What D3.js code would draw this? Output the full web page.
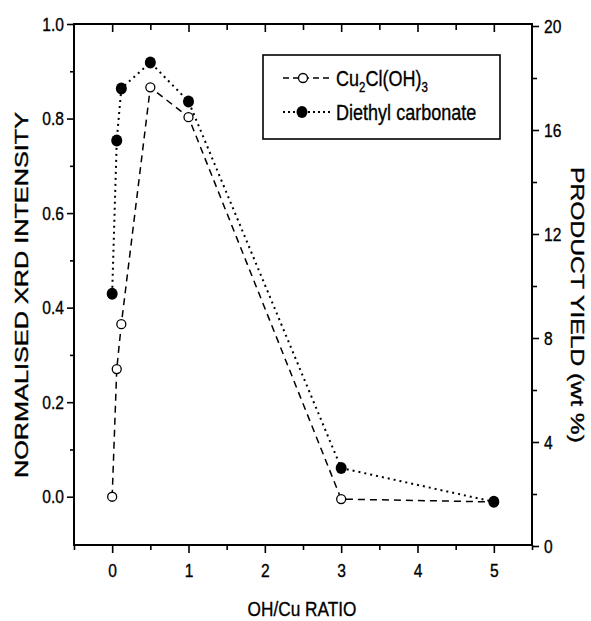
<!DOCTYPE html>
<meta charset="utf-8">
<script src="https://d3js.org/d3.v7.min.js"></script>
<style>
    body { margin: 0; background: #fff; }
    text { font-family: "Liberation Sans", Arial, sans-serif; fill: #000; stroke: #000; stroke-width: 0.35px; }
</style>
<div id="chart"></div>
<script>
    // data
    var ratio = [0, 0.06, 0.12, 0.5, 1, 3, 5];
    var xrd = [0, 0.27, 0.365, 0.866, 0.803, -0.005, -0.011];   // Cu2Cl(OH)3, left axis
    var dec = [9.7, 15.6, 17.6, 18.6, 17.1, 3.0, 1.7];          // diethyl carbonate, right axis

    var xTicks = [0, 1, 2, 3, 4, 5];
    var xMinor = [-0.5, 0.5, 1.5, 2.5, 3.5, 4.5, 5.5];
    var leftTicks = [0, 0.2, 0.4, 0.6, 0.8, 1.0];
    var leftMinor = [0.1, 0.3, 0.5, 0.7, 0.9];
    var rightTicks = [0, 4, 8, 12, 16, 20];
    var rightMinor = [2, 6, 10, 14, 18];

    var W = 591, H = 621;
    var frame = {left: 74, right: 532, top: 24, bottom: 545};
    var NARROW = 0.82;   // no condensed face installed, squeeze Liberation Sans instead

    var svg = d3.select("#chart").append("svg")
        .attr("width", W).attr("height", H);

    var x = d3.scaleLinear().domain([-0.5, 5.5]).range([frame.left, frame.right]);
    var yL = d3.scaleLinear().domain([-0.1, 1.0]).range([544, 24]);
    var yR = d3.scaleLinear().domain([0, 20]).range([546, 26]);

    // squeeze text horizontally, keeping its anchor point
    function narrow(sel) {
        sel.each(function() {
            var l = this.getComputedTextLength();
            d3.select(this).attr("textLength", l * NARROW).attr("lengthAdjust", "spacingAndGlyphs");
        });
    }

    function axis(gen, t, size, fmt) {
        return gen.tickValues(t).tickSize(size).tickSizeOuter(0).tickFormat(fmt || "");
    }
    function styleAxis(g) {
        g.select(".domain").remove();
        g.selectAll("line").attr("stroke", "#000").attr("stroke-width", 1.6);
        g.selectAll("text").attr("font-size", 19).attr("fill", "#000")
            .style("font-family", "'Liberation Sans', Arial, sans-serif");
    }

    // bottom axis
    svg.append("g").attr("transform", "translate(0," + frame.bottom + ")")
        .call(axis(d3.axisBottom(x), xTicks, 8, d3.format("d"))).call(styleAxis)
        .selectAll("text").attr("dy", "1.1em").call(narrow);
    svg.append("g").attr("transform", "translate(0," + frame.bottom + ")")
        .call(axis(d3.axisBottom(x), xMinor, 5)).call(styleAxis);
    // top ticks hang inside
    svg.append("g").attr("transform", "translate(0," + frame.top + ")")
        .call(axis(d3.axisBottom(x), xTicks, 8)).call(styleAxis);
    svg.append("g").attr("transform", "translate(0," + frame.top + ")")
        .call(axis(d3.axisBottom(x), xMinor.slice(1, -1), 6)).call(styleAxis);

    // left axis
    svg.append("g").attr("transform", "translate(" + frame.left + ",0)")
        .call(axis(d3.axisLeft(yL), leftTicks, 7, d3.format(".1f"))).call(styleAxis)
        .selectAll("text").attr("x", -10).call(narrow);
    svg.append("g").attr("transform", "translate(" + frame.left + ",0)")
        .call(axis(d3.axisLeft(yL), leftMinor, 4)).call(styleAxis);

    // right axis
    svg.append("g").attr("transform", "translate(" + frame.right + ",0)")
        .call(axis(d3.axisRight(yR), rightTicks, 7, d3.format("d"))).call(styleAxis)
        .selectAll("text").attr("x", 12).call(narrow);
    svg.append("g").attr("transform", "translate(" + frame.right + ",0)")
        .call(axis(d3.axisRight(yR), rightMinor, 5)).call(styleAxis);

    // frame
    svg.append("rect")
        .attr("x", frame.left).attr("y", frame.top)
        .attr("width", frame.right - frame.left).attr("height", frame.bottom - frame.top)
        .attr("fill", "none").attr("stroke", "#000").attr("stroke-width", 2);

    // axis titles (wide lettering on the y titles)
    svg.append("text")
        .attr("transform", "translate(28,295) rotate(-90)")
        .attr("text-anchor", "middle").attr("font-size", 18)
        .attr("textLength", 366).attr("lengthAdjust", "spacingAndGlyphs")
        .text("NORMALISED XRD INTENSITY");
    svg.append("text")
        .attr("transform", "translate(571,305) rotate(90)")
        .attr("text-anchor", "middle").attr("font-size", 18)
        .attr("textLength", 276).attr("lengthAdjust", "spacingAndGlyphs")
        .text("PRODUCT YIELD (wt %)");
    svg.append("text")
        .attr("x", 302).attr("y", 616)
        .attr("text-anchor", "middle").attr("font-size", 21)
        .text("OH/Cu RATIO").call(narrow);

    var pts = ratio.map(function(r, i) { return {r: r, a: xrd[i], b: dec[i]}; });

    // Cu2Cl(OH)3 dashed line with open circles
    svg.append("path").datum(pts)
        .attr("fill", "none").attr("stroke", "#000").attr("stroke-width", 1.5)
        .attr("stroke-dasharray", "7,5")
        .attr("d", d3.line().x(function(d) { return x(d.r); }).y(function(d) { return yL(d.a); }));

    // diethyl carbonate dotted line with filled circles
    svg.append("path").datum(pts)
        .attr("fill", "none").attr("stroke", "#000").attr("stroke-width", 2)
        .attr("stroke-dasharray", "2,4")
        .attr("d", d3.line().x(function(d) { return x(d.r); }).y(function(d) { return yR(d.b); }));

    svg.selectAll(".open").data(pts).enter().append("circle")
        .attr("cx", function(d) { return x(d.r); })
        .attr("cy", function(d) { return yL(d.a); })
        .attr("r", 4.5).attr("fill", "#fff").attr("stroke", "#000").attr("stroke-width", 1.3);

    svg.selectAll(".filled").data(pts).enter().append("ellipse")
        .attr("cx", function(d) { return x(d.r); })
        .attr("cy", function(d) { return yR(d.b); })
        .attr("rx", 5.5).attr("ry", 6).attr("fill", "#000");

    // legend
    var lg = svg.append("g");
    lg.append("rect").attr("x", 263).attr("y", 55).attr("width", 237).attr("height", 84)
        .attr("fill", "#fff").attr("stroke", "#000").attr("stroke-width", 1.6);

    lg.append("line").attr("x1", 283).attr("x2", 332).attr("y1", 78).attr("y2", 78)
        .attr("stroke", "#000").attr("stroke-width", 1.5).attr("stroke-dasharray", "6,4");
    lg.append("circle").attr("cx", 303).attr("cy", 78).attr("r", 4.5)
        .attr("fill", "#fff").attr("stroke", "#000").attr("stroke-width", 1.3);
    var t1 = lg.append("text")
        .attr("transform", "translate(336,86) scale(" + NARROW + ",1)").attr("font-size", 22);
    t1.append("tspan").text("Cu");
    t1.append("tspan").attr("font-size", 14).attr("dy", 6).text("2");
    t1.append("tspan").attr("dy", -6).text("Cl(OH)");
    t1.append("tspan").attr("font-size", 14).attr("dy", 6).text("3");

    lg.append("line").attr("x1", 283).attr("x2", 332).attr("y1", 112).attr("y2", 112)
        .attr("stroke", "#000").attr("stroke-width", 2).attr("stroke-dasharray", "2,3");
    lg.append("ellipse").attr("cx", 302).attr("cy", 112).attr("rx", 5.5).attr("ry", 6).attr("fill", "#000");
    lg.append("text")
        .attr("transform", "translate(336,120) scale(" + NARROW + ",1)").attr("font-size", 22)
        .text("Diethyl carbonate");
</script>
